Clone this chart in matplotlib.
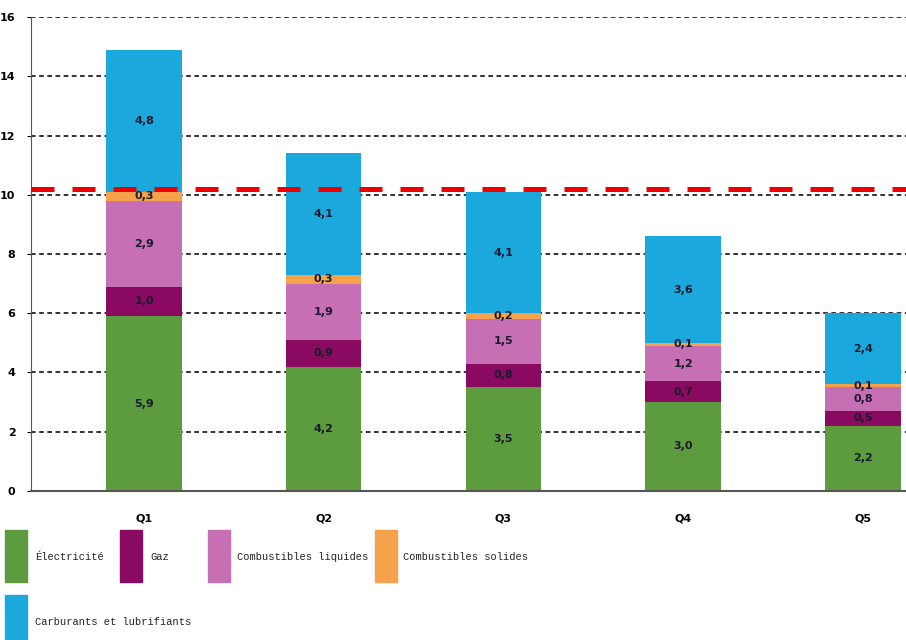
import numpy as np
import matplotlib
matplotlib.use("Agg")
from matplotlib import pyplot as plt
from matplotlib.patches import Rectangle

# Data
quintiles = ["Q1", "Q2", "Q3", "Q4", "Q5"]
electricite = [5.9, 4.2, 3.5, 3.0, 2.2]
gaz = [1.0, 0.9, 0.8, 0.7, 0.5]
liquides = [2.9, 1.9, 1.5, 1.2, 0.8]
solides = [0.3, 0.3, 0.2, 0.1, 0.1]
carburants = [4.8, 4.1, 4.1, 3.6, 2.4]
seuil = 10.2

series = [electricite, gaz, liquides, solides, carburants]
names = ["Électricité", "Gaz", "Combustibles liquides", "Combustibles solides",
         "Carburants et lubrifiants"]
colors = ["#5c9b3e", "#8a0a62", "#c76fb5", "#f6a24c", "#1ba9dd"]

fig = plt.figure(figsize=(9.06, 6.4), dpi=100)
ax = fig.add_axes([0.034, 0.233, 0.966, 0.74])

x = np.arange(len(quintiles))
bottom = np.zeros(len(quintiles))
for vals, col in zip(series, colors):
    vals = np.array(vals)
    ax.bar(x, vals, width=0.42, bottom=bottom, color=col, zorder=2)
    for xi, b, v in zip(x, bottom, vals):
        ax.text(xi, b + v / 2, f"{v:.1f}".replace(".", ","), ha="center", va="center",
                fontsize=8, fontweight="bold", color="#1a1a2a", zorder=3)
    bottom += vals

# grid lines
for yv in range(2, 17, 2):
    ax.axhline(yv, color="#333333", lw=1.4, dashes=(2.4, 1.8), zorder=1)
ax.axhline(seuil, color="#ee0000", lw=3.6, dashes=(4.6, 3.6), zorder=4)

ax.set_xlim(-0.63, 4.24)
ax.set_ylim(0, 16)
ax.set_yticks(range(0, 17, 2))
ax.set_yticklabels([str(v) for v in range(0, 17, 2)], fontsize=8, fontweight="bold")
ax.set_xticks(x)
ax.set_xticklabels(quintiles, fontsize=8, fontweight="bold")
ax.tick_params(axis="x", length=0, pad=16)
ax.tick_params(axis="y", length=3, pad=8)
for s in ["top", "right"]:
    ax.spines[s].set_visible(False)
ax.spines["left"].set_color("#555555")
ax.spines["bottom"].set_color("#555555")
ax.spines["bottom"].set_linewidth(1.5)

# legend drawn by hand below the axes
W, H = 906, 640
leg = [(5, 530, 35), (120, 530, 150), (208, 530, 237), (375, 530, 403), (5, 595, 35)]
for (px, py, tx), name, col in zip(leg, names, colors):
    fig.patches.append(Rectangle((px / W, 1 - (py + 52) / H), 22 / W, 52 / H,
                                 transform=fig.transFigure, color=col))
    fig.text(tx / W, 1 - (py + 27) / H, name, fontsize=7.5, family="Liberation Mono",
             va="center", ha="left", color="#222222")

fig.savefig("out.png", dpi=100)
